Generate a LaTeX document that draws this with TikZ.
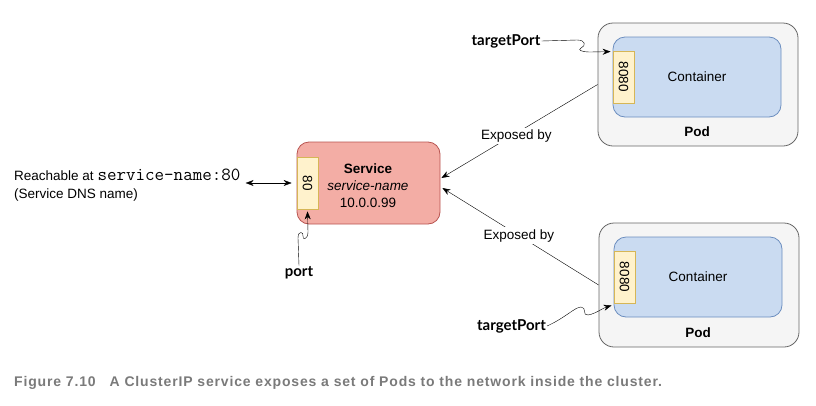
\documentclass[tikz,border=0pt]{standalone}
\usepackage{fontspec}
\setmainfont{Liberation Sans}
\newfontfamily\callfont{Lato}
\usetikzlibrary{positioning}
\usetikzlibrary{arrows.meta}

\definecolor{svcfill}{HTML}{F3ADA5}
\definecolor{svcline}{HTML}{B85450}
\definecolor{portfill}{HTML}{FFF2CC}
\definecolor{portline}{HTML}{D6B656}
\definecolor{podfill}{HTML}{F5F5F5}
\definecolor{podline}{HTML}{666666}
\definecolor{ctrfill}{HTML}{CADBF1}
\definecolor{ctrline}{HTML}{6C8EBF}
\definecolor{capgray}{HTML}{7A7A7A}

\begin{document}
\begin{tikzpicture}[x = 1pt, y = -1pt, >= {Stealth[length = 8pt, width = 6pt]},
	txt/.style = {font = \fontsize{13.5}{17}\selectfont, inner sep = 0pt},
	call/.style = {font = \callfont\bfseries\fontsize{15}{18}\selectfont, inner sep = 1pt},
	portbox/.style = {draw = portline, fill = portfill, line width = 0.8pt, minimum width = 21pt, minimum height = 52pt, inner sep = 0pt},
	podbox/.style = {draw = podline, fill = podfill, line width = 0.8pt, rounded corners = 15pt, minimum width = 200pt, minimum height = 123pt},
	ctrbox/.style = {draw = ctrline, fill = ctrfill, line width = 0.8pt, rounded corners = 12pt, minimum width = 168pt, minimum height = 80pt, txt}]
	\useasboundingbox (0, 0) rectangle (816, 405);

	% service
	\node [draw = svcline, fill = svcfill, line width = 0.8pt, rounded corners = 12pt, minimum width = 143pt, minimum height = 82pt] (svc) at (368.5, 183) {};
	\node [portbox] (svcport) at (307.5, 183) {};
	\node [txt, rotate = -90] at (svcport) {80};
	\node [txt, align = center] (svctext) at (368, 186) {\textbf{Service}\\\textit{service-name}\\10.0.0.99};
	\node [txt, anchor = west, align = left] (reach) at (14, 185) {Reachable at {\ttfamily\fontsize{18.5}{17}\selectfont service-name:80}\\[1pt](Service DNS name)};
	\draw [<->] ([xshift = 5pt]reach.east |- svcport.west) -- ([xshift = -5pt]svcport.west);

	% pods
	\node [podbox] (pod1) at (698, 84.5) {};
	\node [ctrbox] (ctr1) at (697, 77) {Container};
	\node [portbox] (port1) at (623.5, 77) {};
	\node [txt, rotate = -90] at (port1) {8080};
	\node [txt] at (697, 132) {\textbf{Pod}};

	\node [podbox, minimum height = 124pt] (pod2) at (699, 285) {};
	\node [ctrbox] (ctr2) at (698, 277) {Container};
	\node [portbox] (port2) at (624.5, 277) {};
	\node [txt, rotate = -90] at (port2) {8080};
	\node [txt] at (698, 333) {\textbf{Pod}};

	% exposed by
	\draw [->] (pod1.west) -- ([xshift = 1pt, yshift = 5pt]svc.east) node [txt, pos = 0.52, fill = white, inner sep = 2pt, yshift = -3pt] {Exposed by};
	\draw [->] (pod2.west) -- ([xshift = 2pt, yshift = -5pt]svc.east) node [txt, pos = 0.51, fill = white, inner sep = 2pt] {Exposed by};

	% callouts
	\node [call] (tport1) at (506, 41) {targetPort};
	\draw [->] (tport1.east) -- (577, 40) .. controls (586, 40) and (586, 46) .. (581, 48) .. controls (577, 50) and (582, 52) .. (590, 52) -- ([xshift = -2pt, yshift = -1pt]port1.north west);
	\node [call] (tport2) at (511.5, 326) {targetPort};
	\draw [->] (tport2.east) .. controls (565, 318) and (575, 307) .. (581, 307) .. controls (587, 307) and (582, 316) .. (588, 315) .. controls (595, 314) and (603, 308) .. ([xshift = -2pt, yshift = -2pt]port2.south west);
	\node [call] (portlbl) at (299, 273) {port};
	\draw [->] (portlbl.north) -- (298, 238) .. controls (298, 230) and (304, 232) .. (303, 236) .. controls (302, 240) and (308, 240) .. (308, 232) -- ([yshift = -2pt]svcport.south);

	% caption
	\node [anchor = west, inner sep = 0pt, text = capgray, font = \bfseries\fontsize{14}{16}\selectfont\addfontfeature{LetterSpace = 6}] (caption) at (14, 383) {Figure 7.10\quad A ClusterIP service exposes a set of Pods to the network inside the cluster.};
\end{tikzpicture}
\end{document}
